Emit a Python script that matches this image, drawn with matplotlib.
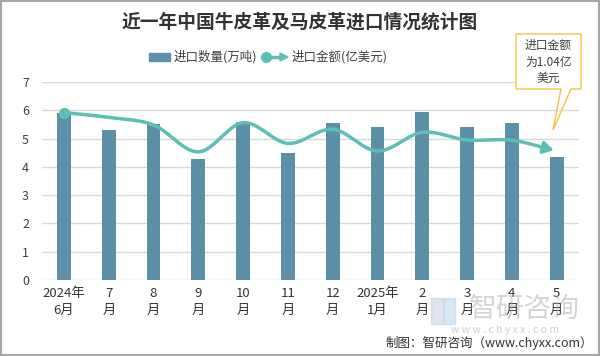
import numpy as np
import matplotlib
matplotlib.use("Agg")
import matplotlib.pyplot as plt
from matplotlib.patches import Rectangle, Polygon
from matplotlib.lines import Line2D

plt.rcParams['font.family'] = ['Noto Sans CJK SC', 'DejaVu Sans']

categories = ["2024年\n6月", "7\n月", "8\n月", "9\n月", "10\n月", "11\n月", "12\n月",
              "2025年\n1月", "2\n月", "3\n月", "4\n月", "5\n月"]
quantity = [5.91, 5.30, 5.51, 4.28, 5.59, 4.49, 5.55, 5.41, 5.94, 5.41, 5.55, 4.35]
amount = [5.92, 5.75, 5.48, 4.53, 5.56, 4.83, 5.33, 4.56, 5.22, 4.95, 4.94, 4.56]
yticks = [0, 1, 2, 3, 4, 5, 6, 7]

bar_color = "#5D8FA6"
line_color = "#5BBFB5"

fig = plt.figure(figsize=(6.0, 3.56), dpi=100)
ax = fig.add_axes([41.6 / 600, 1 - 280 / 356, (579 - 41.6) / 600, (280 - 82) / 356])

x = np.arange(len(categories))
ax.bar(x, quantity, width=0.31, color=bar_color, zorder=2)

# smooth curve (Catmull-Rom through the data points)
def catmull(xs, ys, n=30):
    px = np.concatenate([[2 * xs[0] - xs[1]], xs, [2 * xs[-1] - xs[-2]]])
    py = np.concatenate([[2 * ys[0] - ys[1]], ys, [2 * ys[-1] - ys[-2]]])
    ox, oy = [], []
    for i in range(1, len(px) - 2):
        t = np.linspace(0, 1, n, endpoint=False)
        for arr, out in ((px, ox), (py, oy)):
            p0, p1, p2, p3 = arr[i - 1], arr[i], arr[i + 1], arr[i + 2]
            out.extend(0.5 * ((2 * p1) + (-p0 + p2) * t + (2 * p0 - 5 * p1 + 4 * p2 - p3) * t ** 2
                              + (-p0 + 3 * p1 - 3 * p2 + p3) * t ** 3))
    ox.append(xs[-1]); oy.append(ys[-1])
    return np.array(ox), np.array(oy)

sx, sy = catmull(x.astype(float), np.array(amount))
ax.plot(sx[:-6], sy[:-6], color=line_color, lw=2.5, zorder=3, solid_capstyle='round')
ax.annotate("", xy=(sx[-1], sy[-1]), xytext=(sx[-8], sy[-8]),
            arrowprops=dict(arrowstyle="-|>,head_length=0.6,head_width=0.35", color=line_color, lw=2.5),
            zorder=4)
ax.plot([x[0]], [amount[0]], 'o', color=line_color, ms=7, zorder=4)

ax.set_xlim(-0.5, len(categories) - 0.5)
ax.set_ylim(0, 7)
ax.set_yticks(yticks)
ax.set_xticks(x)
ax.set_xticklabels(categories, fontsize=9.5, color="#333333", linespacing=1.35)
ax.tick_params(axis='y', labelsize=9, colors="#404040", length=0, pad=9)
ax.tick_params(axis='x', length=0, pad=5)
ax.grid(axis='y', color="#D9D9D9", lw=1, zorder=0)
for s in ax.spines.values():
    s.set_visible(False)

# title
fig.text(0.5, 1 - 22 / 356, "近一年中国牛皮革及马皮革进口情况统计图", ha='center', va='center',
         fontsize=13.5, fontweight='bold', color="#333333")

# legend
fig.patches.append(Rectangle((149 / 600, 1 - 61 / 356), 21 / 600, 8 / 356, color=bar_color,
                             transform=fig.transFigure))
fig.text(174 / 600, 1 - 57 / 356, "进口数量(万吨)", fontsize=9, color="#404040", va='center')
fig.lines.append(Line2D([266 / 600, 281 / 600], [1 - 57 / 356] * 2, color=line_color, lw=2.5,
                        transform=fig.transFigure))
fig.lines.append(Line2D([266 / 600], [1 - 57 / 356], marker='o', ms=7, color=line_color,
                        transform=fig.transFigure))
fig.patches.append(Polygon([(280 / 600, 1 - 53 / 356), (288 / 600, 1 - 57 / 356), (280 / 600, 1 - 61 / 356)],
                           closed=True, color=line_color, transform=fig.transFigure))
fig.text(292 / 600, 1 - 57 / 356, "进口金额(亿美元)", fontsize=9, color="#404040", va='center')

# callout
def fp(px, py):
    return (px / 600, 1 - py / 356)

callout = Polygon([fp(516, 34), fp(581, 34), fp(581, 89), fp(571, 89), fp(553, 130), fp(561, 89), fp(516, 89)],
                  closed=True, facecolor='white', edgecolor="#F5C242", lw=1, transform=fig.transFigure, zorder=5)
fig.patches.append(callout)
fig.text(548.5 / 600, 1 - 62 / 356, "进口金额\n为1.04亿\n美元", ha='center', va='center', fontsize=8.5,
         color="#404040", linespacing=1.35, zorder=6)

# watermark
fig.patches.append(Rectangle(fp(431, 324), 12 / 600, 26 / 356, color="#B8C4D8", alpha=0.45,
                             transform=fig.transFigure))
fig.patches.append(Rectangle(fp(444, 324), 11 / 600, 26 / 356, color="#A9CDE8", alpha=0.45,
                             transform=fig.transFigure))
fig.text(524 / 600, 1 - 309 / 356, "智研咨询", fontsize=20, color="#A0A0A0", alpha=0.45,
         ha='center', va='center')
fig.text(505 / 600, 1 - 330 / 356, "w w w . c h y x x . c o m", fontsize=7.5, color="#A0A0A0", alpha=0.5,
         ha='center', va='center')

# source
fig.text(593 / 600, 1 - 343 / 356, "制图：智研咨询（www.chyxx.com）", fontsize=9, color="#333333",
         ha='right', va='center')

# border
fig.patches.append(Rectangle((0.001, 0.002), 0.997, 0.995, fill=False, edgecolor="#A6A6A6", lw=1.5,
                             transform=fig.transFigure))

fig.savefig("out.png", dpi=100)
